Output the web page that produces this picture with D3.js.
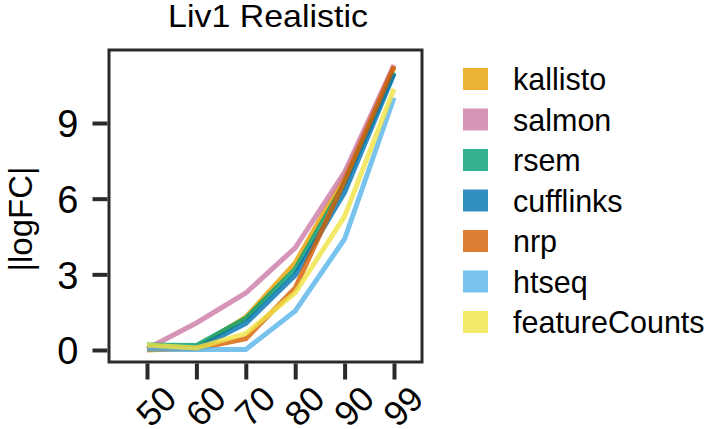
<!DOCTYPE html>
<html><head><meta charset="utf-8">
<script src="https://cdn.jsdelivr.net/npm/d3@7"></script>
<style>body{margin:0;background:#fff}text{font-family:"Liberation Sans",Arial,sans-serif;fill:#000}</style>
</head><body>
<svg id="c" width="708" height="429"></svg>
<script>
const categories = ["50","60","70","80","90","99"];
const seriesNames = ["kallisto","salmon","rsem","cufflinks","nrp","htseq","featureCounts"];
const kallisto = [0.0, 0.08, 1.3, 3.45, 6.9, 11.2];
const salmon = [0.05, 1.07, 2.26, 4.05, 7.05, 11.3];
const rsem = [0.2, 0.18, 1.25, 3.2, 6.6, 11.0];
const cufflinks = [0.05, 0.05, 1.05, 2.97, 6.25, 10.95];
const nrp = [0.05, 0.05, 0.45, 2.46, 6.7, 11.25];
const htseq = [0.05, 0.02, 0.02, 1.55, 4.4, 10.0];
const featureCounts = [0.2, 0.08, 0.65, 2.27, 5.3, 10.35];
const colors = ["#E69F00","#CC79A7","#009E73","#0072B2","#D55E00","#56B4E9","#F0E442"];
const yTicks = [0,3,6,9];
const seriesValues = [kallisto, salmon, rsem, cufflinks, nrp, htseq, featureCounts];

const svg = d3.select("#c");
const L = 109, R = 422, T = 50, B = 362;
const x = d3.scalePoint().domain(categories).range([147, 394]);
const y = d3.scaleLinear().domain([-0.476, 11.895]).range([B, T]);

// title
svg.append("text").attr("transform","translate(268,27) scale(1.06,1)").attr("text-anchor","middle")
  .style("font-size","32px").text("Liv1 Realistic");

// lines
const line = d3.line().x((d,i)=>x(categories[i])).y(d=>y(d));
const g = svg.append("g");
seriesValues.forEach((vals,k)=>{
  g.append("path").datum(vals).attr("d", line).attr("fill","none")
    .attr("stroke", colors[k]).attr("stroke-opacity",0.8).attr("stroke-width",5)
    .attr("stroke-linejoin","miter");
});

// frame
svg.append("rect").attr("x",L).attr("y",T).attr("width",R-L).attr("height",B-T)
  .attr("fill","none").attr("stroke","#2a2a2a").attr("stroke-width",3);

// y axis
const yAxis = svg.append("g").attr("transform",`translate(${L-1.5},0)`)
  .call(d3.axisLeft(y).tickValues(yTicks).tickSize(15).tickPadding(14).tickFormat(d3.format("d")));
yAxis.select(".domain").remove();
yAxis.selectAll(".tick line").attr("stroke","#2a2a2a").attr("stroke-width",4);
yAxis.selectAll(".tick text").style("font-size","38px").style("font-family","Liberation Sans, Arial, sans-serif").attr("dy","0.36em");

// x axis
const xAxis = svg.append("g").attr("transform",`translate(0,${B+1.5})`)
  .call(d3.axisBottom(x).tickSize(16).tickFormat(""));
xAxis.select(".domain").remove();
xAxis.selectAll(".tick line").attr("stroke","#2a2a2a").attr("stroke-width",4);
svg.append("g").selectAll("text").data(categories).join("text")
  .attr("transform", d=>`translate(${x(d)+9},406) rotate(-45)`)
  .attr("text-anchor","middle").attr("dominant-baseline","central")
  .style("font-size","35px").text(d=>d);

// y label
svg.append("text").attr("transform","translate(20,219) rotate(-90)")
  .attr("text-anchor","middle").attr("dominant-baseline","central")
  .style("font-size","33px").text("|logFC|");

// legend
const lg = svg.append("g");
seriesNames.forEach((n,k)=>{
  const cy = 79 + k*40.5;
  lg.append("rect").attr("x",463).attr("y",cy-11).attr("width",25).attr("height",22)
    .attr("fill",colors[k]).attr("fill-opacity",0.8);
  lg.append("text").attr("x",513).attr("y",cy).attr("dominant-baseline","central")
    .style("font-size","30.5px").text(n);
});
</script>
</body></html>
